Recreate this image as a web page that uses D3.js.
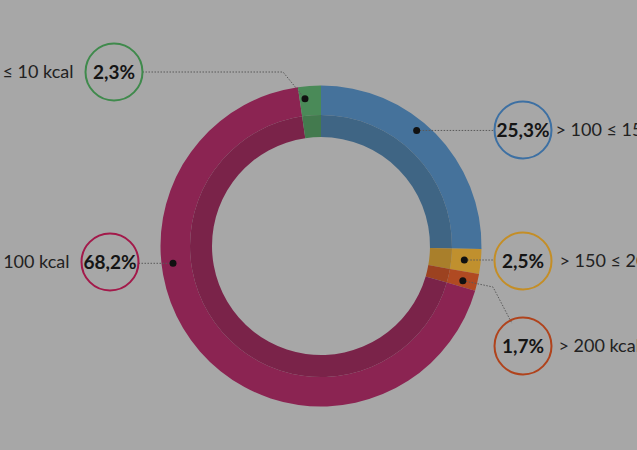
<!DOCTYPE html>
<html>
<head>
<meta charset="utf-8">
<script src="https://cdn.jsdelivr.net/npm/d3@7/dist/d3.min.js"></script>
<style>
  html, body { margin: 0; padding: 0; background: #a7a7a7; overflow: hidden; }
  svg { display: block; font-family: Lato, "Open Sans", sans-serif; }
</style>
</head>
<body>
<div id="chart"></div>
<script>
(function (d3) {
    "use strict";

    /***** Données *****/
    const categories = ["> 100 ≤ 150 kcal", "> 150 ≤ 200 kcal", "> 200 kcal", "> 10 ≤ 100 kcal", "≤ 10 kcal"];
    const values = [25.3, 2.5, 1.7, 68.2, 2.3];
    const pct_labels = ["25,3%", "2,5%", "1,7%", "68,2%", "2,3%"];

    /***** Configuration *****/
    const width = 637, height = 450;
    const cx = 321, cy = 246;
    const r_outer = 160.5, r_band = 131, r_inner = 109;

    const colors = ["#45729b", "#c0902e", "#b04a22", "#8b2452", "#4a8a58"];
    const band_colors = ["#3f6584", "#a97f2b", "#9c4220", "#7a2349", "#437a4e"];
    const ring_colors = ["#3d70a3", "#c48e26", "#b0431c", "#a3194a", "#3f8a4c"];

    // position des bulles et point d'ancrage dans chaque tranche (fraction de l'angle)
    const layout = [
        { lx: 523, ly: 130, side: "right", gap: 4, frac: 0.435, dr: 150, bend: null },
        { lx: 523, ly: 261, side: "right", gap: 8, frac: 0.5, dr: 144, bend: null },
        { lx: 523, ly: 346, side: "right", gap: 7, frac: 0.6, dr: 146, bend: [493, 287] },
        { lx: 110, ly: 262, side: "left", gap: 12, frac: 0.64, dr: 149, bend: null },
        { lx: 114, ly: 72, side: "left", gap: 12, frac: 0.25, dr: 148, bend: [283, 72] }
    ];
    const bubble_r = 28.5;

    const svg = d3.select("#chart").append("svg")
        .attr("width", width)
        .attr("height", height);

    svg.append("rect")
        .attr("width", width)
        .attr("height", height)
        .attr("fill", "#a7a7a7");

    const pie = d3.pie().sort(null).value(d => d)(values);

    const g = svg.append("g")
        .attr("transform", "translate(" + cx + "," + cy + ")");

    const arc_outer = d3.arc().innerRadius(r_band).outerRadius(r_outer);
    const arc_band = d3.arc().innerRadius(r_inner).outerRadius(r_band);

    g.selectAll("path.outer")
        .data(pie)
        .enter().append("path")
        .attr("class", "outer")
        .attr("d", arc_outer)
        .attr("fill", (d, i) => colors[i]);

    g.selectAll("path.band")
        .data(pie)
        .enter().append("path")
        .attr("class", "band")
        .attr("d", arc_band)
        .attr("fill", (d, i) => band_colors[i]);

    // points d'ancrage
    const anchors = pie.map(function (d, i) {
        const a = d.startAngle + (d.endAngle - d.startAngle) * layout[i].frac;
        const r = layout[i].dr;
        return [cx + r * Math.sin(a), cy - r * Math.cos(a)];
    });

    /***** Lignes pointillées *****/
    const leaders = svg.append("g");
    anchors.forEach(function (p, i) {
        const L = layout[i];
        let pts;
        if (L.bend && L.side === "left") {
            pts = [[L.lx + bubble_r, L.ly], L.bend, p];
        } else if (L.bend) {
            // vers le haut de la bulle
            const dx = L.bend[0] - L.lx, dy = L.bend[1] - L.ly;
            const k = bubble_r / Math.sqrt(dx * dx + dy * dy);
            pts = [p, L.bend, [L.lx + dx * k + 2, L.ly + dy * k + 3]];
        } else if (L.side === "right") {
            pts = [p, [L.lx - bubble_r, p[1]]];
        } else {
            pts = [[L.lx + bubble_r, p[1]], p];
        }
        leaders.append("path")
            .attr("d", d3.line()(pts))
            .attr("fill", "none")
            .attr("stroke", "#5a5a5a")
            .attr("stroke-width", 1)
            .attr("stroke-dasharray", "1.5,1.5");
    });

    svg.append("g").selectAll("circle")
        .data(anchors)
        .enter().append("circle")
        .attr("cx", d => d[0])
        .attr("cy", d => d[1])
        .attr("r", 3.5)
        .attr("fill", "#111");

    /***** Bulles et étiquettes *****/
    const bubbles = svg.append("g");
    layout.forEach(function (L, i) {
        bubbles.append("circle")
            .attr("cx", L.lx)
            .attr("cy", L.ly)
            .attr("r", bubble_r)
            .attr("fill", "none")
            .attr("stroke", ring_colors[i])
            .attr("stroke-width", 2);

        bubbles.append("text")
            .attr("x", L.lx)
            .attr("y", L.ly)
            .attr("dy", "0.36em")
            .attr("text-anchor", "middle")
            .attr("font-size", 19)
            .attr("font-weight", "bold")
            .attr("fill", "#151515")
            .text(pct_labels[i]);

        bubbles.append("text")
            .attr("x", L.side === "right" ? L.lx + bubble_r + L.gap : L.lx - bubble_r - L.gap)
            .attr("y", L.ly)
            .attr("dy", "0.36em")
            .attr("text-anchor", L.side === "right" ? "start" : "end")
            .attr("font-size", 18)
            .attr("fill", "#222")
            .text(categories[i]);
    });

})(d3);
</script>
</body>
</html>
